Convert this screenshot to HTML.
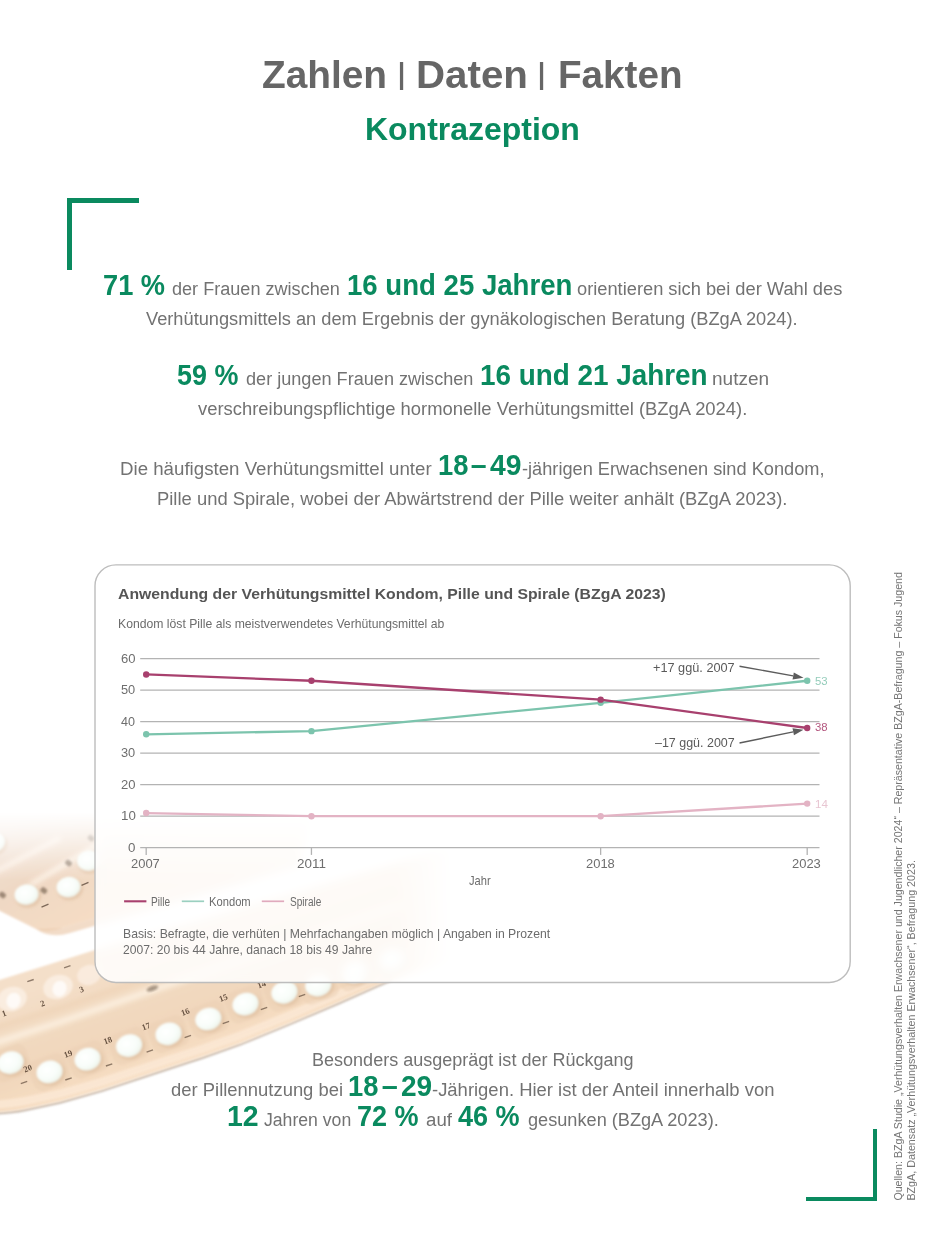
<!DOCTYPE html>
<html lang="de">
<head>
<meta charset="utf-8">
<title>Zahlen | Daten | Fakten – Kontrazeption</title>
<style>
html,body{margin:0;padding:0;background:#fff}
body{width:945px;height:1260px;position:relative;overflow:hidden;font-family:"Liberation Sans",sans-serif;color:#6f6f6f}
h1,h2,h3,p,figure,figcaption,ul,li,div{margin:0;padding:0;font-weight:normal;font-size:inherit;list-style:none}
.r{position:absolute;display:block;white-space:pre;line-height:1;transform-origin:0 0;font-weight:normal}
.b{font-weight:bold}
.title{color:#666666}
.green{color:#0a8a5f}
.body{color:#727272}
.ctitle{color:#555555}
.csub{color:#6c6c6c}
.anno{color:#5a5a5a}
.teal{color:#93ccba}
.crim{color:#b4577f}
.pink{color:#e8c6d2}
.axis{color:#6e6e6e}
.layer{position:absolute;left:0;top:0;width:945px;height:1260px;overflow:hidden}
.card{position:absolute;left:95px;top:564.9px;width:755.2px;height:417.6px;border-radius:21px;background:rgba(255,255,255,.85);-webkit-backdrop-filter:blur(5px);backdrop-filter:blur(5px)}
.corner{position:absolute;background:#0a8a5f}
.src{position:absolute;left:0;top:0;white-space:pre;line-height:1;font-size:12.4px;color:#757575;transform-origin:0 0}
</style>
</head>
<body>
<svg class="layer" width="945" height="1260" viewBox="0 0 945 1260" aria-hidden="true">
<defs>
<linearGradient id="fadeU" gradientUnits="userSpaceOnUse" x1="0" y1="812" x2="0" y2="880">
<stop offset="0" stop-color="#000"/><stop offset=".35" stop-color="#555"/><stop offset="1" stop-color="#fff"/></linearGradient>
<linearGradient id="fadeR" gradientUnits="userSpaceOnUse" x1="395" y1="0" x2="455" y2="0">
<stop offset="0" stop-color="#fff"/><stop offset="1" stop-color="#000"/></linearGradient>
<mask id="mR" maskUnits="userSpaceOnUse" x="-20" y="700" width="965" height="560"><rect x="-20" y="700" width="965" height="560" fill="url(#fadeR)"/></mask>
<mask id="mU" maskUnits="userSpaceOnUse" x="0" y="700" width="945" height="560"><rect x="0" y="700" width="945" height="560" fill="url(#fadeU)"/></mask>
<radialGradient id="pl" cx=".42" cy=".38" r=".75">
<stop offset="0" stop-color="#ffffff"/><stop offset=".55" stop-color="#f8fdf9"/><stop offset=".88" stop-color="#edf3ea"/><stop offset="1" stop-color="#e6dfce"/></radialGradient>
<linearGradient id="lp" gradientUnits="userSpaceOnUse" x1="120" y1="960" x2="160" y2="1075">
<stop offset="0" stop-color="#f4dfc9"/><stop offset=".3" stop-color="#f2dac1"/><stop offset=".62" stop-color="#f1d7bc"/><stop offset=".85" stop-color="#f5dcc1"/><stop offset="1" stop-color="#fae3ca"/></linearGradient>
<linearGradient id="up" gradientUnits="userSpaceOnUse" x1="0" y1="830" x2="60" y2="935">
<stop offset="0" stop-color="#f2e2d6"/><stop offset=".5" stop-color="#efd8c4"/><stop offset="1" stop-color="#f5dcc4"/></linearGradient>
<filter id="fb0" x="-20%" y="-20%" width="140%" height="140%"><feGaussianBlur stdDeviation="0.45"/></filter>
<filter id="fb1" x="-10%" y="-10%" width="120%" height="120%"><feGaussianBlur stdDeviation="0.8"/></filter>
<filter id="fb2" x="-20%" y="-20%" width="140%" height="140%"><feGaussianBlur stdDeviation="2.5"/></filter>
</defs>
<g mask="url(#mU)">
<g filter="url(#fb1)">
<path d="M-10 790L330 760L300 858L62 928Q48 934 36 929L-10 906Z" fill="url(#up)"/>
<path d="M62 928L300 858L300 866L70 933Q50 939 36 929Z" fill="#eccdb0" opacity=".7"/>
</g>
<g filter="url(#fb2)" stroke="#fdf3e8" stroke-width="5" fill="none" opacity=".9">
<path d="M-5 872L60 838"/><path d="M30 885L105 840"/>
</g>
<g filter="url(#fb1)">
<ellipse cx="27.7" cy="896.7" rx="13.0" ry="11.0" transform="rotate(-10 26.5 894.5)" fill="#d9b796" opacity="0.55" filter="url(#fb1)"/><ellipse cx="26.5" cy="894.5" rx="12.0" ry="10.2" transform="rotate(-10 26.5 894.5)" fill="url(#pl)" opacity="1"/>
<ellipse cx="69.7" cy="889.2" rx="13.0" ry="11.0" transform="rotate(-10 68.5 887.0)" fill="#d9b796" opacity="0.55" filter="url(#fb1)"/><ellipse cx="68.5" cy="887.0" rx="12.0" ry="10.2" transform="rotate(-10 68.5 887.0)" fill="url(#pl)" opacity="1"/>
<ellipse cx="90.2" cy="862.7" rx="13.0" ry="11.0" transform="rotate(-10 89.0 860.5)" fill="#d9b796" opacity="0.55" filter="url(#fb1)"/><ellipse cx="89.0" cy="860.5" rx="12.0" ry="10.2" transform="rotate(-10 89.0 860.5)" fill="url(#pl)" opacity="1"/>
<ellipse cx="-5.8" cy="844.2" rx="13.0" ry="11.0" transform="rotate(-10 -7.0 842.0)" fill="#d9b796" opacity="0.55" filter="url(#fb1)"/><ellipse cx="-7.0" cy="842.0" rx="12.0" ry="10.2" transform="rotate(-10 -7.0 842.0)" fill="url(#pl)" opacity="1"/>
</g>
<g fill="#5a4636" opacity=".55" filter="url(#fb1)">
<rect x="65.3" y="860.4" width="6.4" height="5.2" rx="1.5" transform="rotate(40 68.5 863)"/>
<rect x="40.599999999999994" y="887.9" width="6.4" height="5.2" rx="1.5" transform="rotate(40 43.8 890.5)"/>
<rect x="-0.7000000000000002" y="892.4" width="6.4" height="5.2" rx="1.5" transform="rotate(40 2.5 895)"/>
<rect x="87.8" y="835.4" width="6.4" height="5.2" rx="1.5" transform="rotate(40 91 838)"/>
</g>
<g stroke="#4d3a2d" stroke-width="1.4" fill="none" opacity=".7" filter="url(#fb0)">
<path d="M81.5 885.3L88.5 882.3"/>
<path d="M41.5 907.1L48.5 904.1"/>
</g>
</g>
<g mask="url(#mR)">
<path d="M-10 1113.5Q10 1113 25 1110L60 1102.5L101.5 1090.8L169.3 1068.5L203 1057.5L240 1044.5L290 1024L338.6 1003.3L376.7 986.4L392 980" stroke="#bfae9f" stroke-width="2.4" fill="none" filter="url(#fb1)" opacity=".85"/>
<g filter="url(#fb1)">
<path d="M-10 983L95 950L470 842L480 953L392 979L376.7 985.4L338.6 1002.3L290 1023L240 1043.5L203 1056.5L169.3 1067.5L101.5 1089.8L60 1101.5L25 1109Q10 1112 -10 1112.5Z" fill="url(#lp)"/>
</g>
<path d="M-10 1105Q10 1104 25 1101L60 1093.5L101.5 1081.8L169.3 1059.5L203 1048.5L240 1035.5L290 1015L338.6 994.3L376.7 977.4L392 971" stroke="#fce9d6" stroke-width="8" fill="none" opacity=".8" filter="url(#fb1)"/>
<g filter="url(#fb2)" fill="none">
<path d="M-5 1043L60 1022L400 905" stroke="#fcefe0" stroke-width="7" opacity=".9"/>
<path d="M-5 1028L60 1008L400 892" stroke="#efd3b6" stroke-width="5" opacity=".8"/>
</g>
<g filter="url(#fb1)">
<ellipse cx="12" cy="999" rx="15" ry="12" transform="rotate(-18 12 999)" fill="#fbeee2" opacity=".9"/>
<ellipse cx="14" cy="1000" rx="7" ry="8" transform="rotate(20 12 999)" fill="#fff" opacity=".75"/>
<ellipse cx="58" cy="987" rx="15" ry="12" transform="rotate(-18 58 987)" fill="#fbeee2" opacity=".9"/>
<ellipse cx="60" cy="988" rx="7" ry="8" transform="rotate(20 58 987)" fill="#fff" opacity=".75"/>
<ellipse cx="89" cy="975" rx="12" ry="10" transform="rotate(-18 89 975)" fill="#fbeee2" opacity=".8"/>
</g>
<g filter="url(#fb1)">
<rect x="-8.4" y="1046.9" width="38" height="32" rx="9" transform="rotate(-20 10.6 1062.9)" fill="#ecd0b3" opacity=".5"/>
<rect x="30.5" y="1056.2" width="38" height="32" rx="9" transform="rotate(-20 49.5 1072.2)" fill="#ecd0b3" opacity=".5"/>
<rect x="68.6" y="1043.5" width="38" height="32" rx="9" transform="rotate(-20 87.6 1059.5)" fill="#ecd0b3" opacity=".5"/>
<rect x="110.1" y="1029.9" width="38" height="32" rx="9" transform="rotate(-20 129.1 1045.9)" fill="#ecd0b3" opacity=".5"/>
<rect x="149.5" y="1018.1" width="38" height="32" rx="9" transform="rotate(-20 168.5 1034.1)" fill="#ecd0b3" opacity=".5"/>
<rect x="189.3" y="1003.3" width="38" height="32" rx="9" transform="rotate(-20 208.3 1019.3)" fill="#ecd0b3" opacity=".5"/>
<rect x="226.5" y="988.4" width="38" height="32" rx="9" transform="rotate(-20 245.5 1004.4)" fill="#ecd0b3" opacity=".5"/>
<rect x="265.4" y="976.6" width="38" height="32" rx="9" transform="rotate(-20 284.4 992.6)" fill="#ecd0b3" opacity=".5"/>
<rect x="299.3" y="969.4" width="38" height="32" rx="9" transform="rotate(-20 318.3 985.4)" fill="#ecd0b3" opacity=".5"/>
<rect x="336.0" y="956.0" width="38" height="32" rx="9" transform="rotate(-20 355.0 972.0)" fill="#ecd0b3" opacity=".5"/>
<rect x="373.0" y="944.0" width="38" height="32" rx="9" transform="rotate(-20 392.0 960.0)" fill="#ecd0b3" opacity=".5"/>
<ellipse cx="11.8" cy="1064.8" rx="14.2" ry="11.9" transform="rotate(-17 10.6 1062.6)" fill="#d9b796" opacity="0.55" filter="url(#fb1)"/><ellipse cx="10.6" cy="1062.6" rx="13.2" ry="11.1" transform="rotate(-17 10.6 1062.6)" fill="url(#pl)" opacity="1"/>
<ellipse cx="50.7" cy="1074.1" rx="14.2" ry="11.9" transform="rotate(-17 49.5 1071.9)" fill="#d9b796" opacity="0.55" filter="url(#fb1)"/><ellipse cx="49.5" cy="1071.9" rx="13.2" ry="11.1" transform="rotate(-17 49.5 1071.9)" fill="url(#pl)" opacity="1"/>
<ellipse cx="88.8" cy="1061.4" rx="14.2" ry="11.9" transform="rotate(-17 87.6 1059.2)" fill="#d9b796" opacity="0.55" filter="url(#fb1)"/><ellipse cx="87.6" cy="1059.2" rx="13.2" ry="11.1" transform="rotate(-17 87.6 1059.2)" fill="url(#pl)" opacity="1"/>
<ellipse cx="130.3" cy="1047.8" rx="14.2" ry="11.9" transform="rotate(-17 129.1 1045.6)" fill="#d9b796" opacity="0.55" filter="url(#fb1)"/><ellipse cx="129.1" cy="1045.6" rx="13.2" ry="11.1" transform="rotate(-17 129.1 1045.6)" fill="url(#pl)" opacity="1"/>
<ellipse cx="169.7" cy="1036.0" rx="14.2" ry="11.9" transform="rotate(-17 168.5 1033.8)" fill="#d9b796" opacity="0.55" filter="url(#fb1)"/><ellipse cx="168.5" cy="1033.8" rx="13.2" ry="11.1" transform="rotate(-17 168.5 1033.8)" fill="url(#pl)" opacity="1"/>
<ellipse cx="209.5" cy="1021.2" rx="14.2" ry="11.9" transform="rotate(-17 208.3 1019.0)" fill="#d9b796" opacity="0.55" filter="url(#fb1)"/><ellipse cx="208.3" cy="1019.0" rx="13.2" ry="11.1" transform="rotate(-17 208.3 1019.0)" fill="url(#pl)" opacity="1"/>
<ellipse cx="246.7" cy="1006.3" rx="14.2" ry="11.9" transform="rotate(-17 245.5 1004.1)" fill="#d9b796" opacity="0.55" filter="url(#fb1)"/><ellipse cx="245.5" cy="1004.1" rx="13.2" ry="11.1" transform="rotate(-17 245.5 1004.1)" fill="url(#pl)" opacity="1"/>
<ellipse cx="285.6" cy="994.5" rx="14.2" ry="11.9" transform="rotate(-17 284.4 992.3)" fill="#d9b796" opacity="0.55" filter="url(#fb1)"/><ellipse cx="284.4" cy="992.3" rx="13.2" ry="11.1" transform="rotate(-17 284.4 992.3)" fill="url(#pl)" opacity="1"/>
<ellipse cx="319.5" cy="987.3" rx="14.2" ry="11.9" transform="rotate(-17 318.3 985.1)" fill="#d9b796" opacity="0.55" filter="url(#fb1)"/><ellipse cx="318.3" cy="985.1" rx="13.2" ry="11.1" transform="rotate(-17 318.3 985.1)" fill="url(#pl)" opacity="1"/>
<ellipse cx="356.2" cy="973.9" rx="14.2" ry="11.9" transform="rotate(-17 355.0 971.7)" fill="#d9b796" opacity="0.55" filter="url(#fb1)"/><ellipse cx="355.0" cy="971.7" rx="13.2" ry="11.1" transform="rotate(-17 355.0 971.7)" fill="url(#pl)" opacity="1"/>
<ellipse cx="393.2" cy="961.9" rx="14.2" ry="11.9" transform="rotate(-17 392.0 959.7)" fill="#d9b796" opacity="0.55" filter="url(#fb1)"/><ellipse cx="392.0" cy="959.7" rx="13.2" ry="11.1" transform="rotate(-17 392.0 959.7)" fill="url(#pl)" opacity="1"/>
</g>
<g font-family="'Liberation Serif',serif" font-weight="bold" font-size="8.5" fill="#4f3b2c" opacity=".85" text-anchor="middle" filter="url(#fb0)">
<text x="5" y="1016" transform="rotate(-20 5 1016)">1</text>
<text x="43.6" y="1006" transform="rotate(-20 43.6 1006)">2</text>
<text x="82.5" y="992" transform="rotate(-20 82.5 992)">3</text>
<text x="28.8" y="1071" transform="rotate(-20 28.8 1071)">20</text>
<text x="69" y="1056.5" transform="rotate(-20 69 1056.5)">19</text>
<text x="108.8" y="1043" transform="rotate(-20 108.8 1043)">18</text>
<text x="146.9" y="1029" transform="rotate(-20 146.9 1029)">17</text>
<text x="186.2" y="1014.5" transform="rotate(-20 186.2 1014.5)">16</text>
<text x="224.3" y="1000.5" transform="rotate(-20 224.3 1000.5)">15</text>
<text x="262.4" y="987" transform="rotate(-20 262.4 987)">14</text>
</g>
<ellipse cx="152.4" cy="988.5" rx="6" ry="2.4" transform="rotate(-20 152.4 988.5)" fill="#5a4636" opacity=".5" filter="url(#fb1)"/>
<g stroke="#4d3a2d" stroke-width="1.4" fill="none" opacity=".6" filter="url(#fb0)">
<path d="M65.3 1080.0L71.7 1077.8000000000002"/>
<path d="M105.89999999999999 1066.0L112.3 1063.8000000000002"/>
<path d="M146.60000000000002 1052.1L153.0 1049.9"/>
<path d="M184.60000000000002 1037.6L191.0 1035.4"/>
<path d="M222.70000000000002 1023.6L229.1 1021.4"/>
<path d="M260.8 1009.6L267.2 1007.4"/>
<path d="M298.8 996.6L305.2 994.4"/>
<path d="M27.3 981.7L33.7 979.5"/>
<path d="M64.1 967.8000000000001L70.5 965.6"/>
<path d="M20.8 1083.6L27.2 1081.4"/>
</g>
</g>
</svg>
<div class="card"></div>
<svg class="layer" width="945" height="1260" viewBox="0 0 945 1260" aria-hidden="true">
<rect x="95" y="564.9" width="755.2" height="417.6" rx="21" ry="21" fill="none" stroke="#bdbdbd" stroke-width="1.4"/>
<g stroke="#b3b3b3" stroke-width="1.3" fill="none">
<path d="M140.2 847.70H819.5"/>
<path d="M140.2 816.20H819.5"/>
<path d="M140.2 784.70H819.5"/>
<path d="M140.2 753.20H819.5"/>
<path d="M140.2 721.70H819.5"/>
<path d="M140.2 690.20H819.5"/>
<path d="M140.2 658.70H819.5"/>
<path d="M146.20 847.70v7.2"/>
<path d="M311.45 847.70v7.2"/>
<path d="M600.64 847.70v7.2"/>
<path d="M807.20 847.70v7.2"/>
</g>
<polyline points="146.20,813.05 311.45,816.20 600.64,816.20 807.20,803.60" fill="none" stroke="#e3b3c4" stroke-width="2.3" stroke-linejoin="round"/>
<circle cx="146.20" cy="813.05" r="3.2" fill="#e3b3c4"/>
<circle cx="311.45" cy="816.20" r="3.2" fill="#e3b3c4"/>
<circle cx="600.64" cy="816.20" r="3.2" fill="#e3b3c4"/>
<circle cx="807.20" cy="803.60" r="3.2" fill="#e3b3c4"/>
<polyline points="146.20,734.30 311.45,731.15 600.64,702.80 807.20,680.75" fill="none" stroke="#7cc4ad" stroke-width="2.3" stroke-linejoin="round"/>
<circle cx="146.20" cy="734.30" r="3.2" fill="#7cc4ad"/>
<circle cx="311.45" cy="731.15" r="3.2" fill="#7cc4ad"/>
<circle cx="600.64" cy="702.80" r="3.2" fill="#7cc4ad"/>
<circle cx="807.20" cy="680.75" r="3.2" fill="#7cc4ad"/>
<polyline points="146.20,674.45 311.45,680.75 600.64,699.65 807.20,728.00" fill="none" stroke="#a8406e" stroke-width="2.3" stroke-linejoin="round"/>
<circle cx="146.20" cy="674.45" r="3.2" fill="#a8406e"/>
<circle cx="311.45" cy="680.75" r="3.2" fill="#a8406e"/>
<circle cx="600.64" cy="699.65" r="3.2" fill="#a8406e"/>
<circle cx="807.20" cy="728.00" r="3.2" fill="#a8406e"/>
<path d="M739.50 666.20L793.17 675.93" stroke="#5c5c5c" stroke-width="1.4" fill="none"/><path d="M803.50 677.80L792.53 679.47L793.81 672.39Z" fill="#5c5c5c"/>
<path d="M739.50 743.00L793.22 731.84" stroke="#5c5c5c" stroke-width="1.4" fill="none"/><path d="M803.50 729.70L793.95 735.36L792.49 728.31Z" fill="#5c5c5c"/>
<path d="M124.1 901.3h22.3" stroke="#a8406e" stroke-width="2.1" fill="none"/>
<path d="M181.8 901.3h22.3" stroke="#9bd0c0" stroke-width="1.7" fill="none"/>
<path d="M261.8 901.3h22.3" stroke="#e0aabd" stroke-width="1.7" fill="none"/>
</svg>
<div class="corner" style="left:67.4px;top:198px;width:72px;height:4.9px"></div>
<div class="corner" style="left:67.4px;top:198px;width:4.8px;height:72.4px"></div>
<div class="corner" style="left:805.9px;top:1196.5px;width:71.5px;height:4.8px"></div>
<div class="corner" style="left:872.7px;top:1129.1px;width:4.7px;height:72.2px"></div>
<header>
<h1><span id="t1" class="r title b" style="left:261.97px;top:54.61px;font-size:39.4px;transform:scaleX(0.9850);">Zahlen</span> <span id="t2" class="r title b" style="left:398.08px;top:59.24px;font-size:29.6px;transform:scaleX(0.8533);">|</span> <span id="t3" class="r title b" style="left:416.09px;top:54.61px;font-size:39.4px;transform:scaleX(1.0225);">Daten</span> <span id="t4" class="r title b" style="left:538.28px;top:59.24px;font-size:29.6px;transform:scaleX(0.8533);">|</span> <span id="t5" class="r title b" style="left:557.60px;top:54.61px;font-size:39.4px;transform:scaleX(0.9807);">Fakten</span></h1>
<h2><span id="k" class="r green b" style="left:364.71px;top:114.19px;font-size:30.6px;transform:scaleX(1.0449);">Kontrazeption</span></h2>
</header>
<main>
<p><span id="p1a" class="r green b" style="left:102.84px;top:269.81px;font-size:29.4px;transform:scaleX(0.9262);">71 %</span>
<span id="p1b" class="r body" style="left:172.29px;top:279.48px;font-size:19.2px;transform:scaleX(0.9426);">der Frauen zwischen</span>
<span id="p1c" class="r green b" style="left:347.36px;top:269.81px;font-size:29.4px;transform:scaleX(0.9387);">16 und 25 Jahren</span>
<span id="p1d" class="r body" style="left:577.39px;top:279.48px;font-size:19.2px;transform:scaleX(0.9518);">orientieren sich bei der Wahl des</span>
<span id="p1e" class="r body" style="left:146.16px;top:308.68px;font-size:19.2px;transform:scaleX(0.9501);">Verhütungsmittels an dem Ergebnis der gynäkologischen Beratung (BZgA 2024).</span></p>
<p><span id="p2a" class="r green b" style="left:176.89px;top:360.01px;font-size:29.4px;transform:scaleX(0.9149);">59 %</span>
<span id="p2b" class="r body" style="left:246.19px;top:368.68px;font-size:19.2px;transform:scaleX(0.9435);">der jungen Frauen zwischen</span>
<span id="p2c" class="r green b" style="left:479.64px;top:360.01px;font-size:29.4px;transform:scaleX(0.9480);">16 und 21 Jahren</span>
<span id="p2d" class="r body" style="left:711.76px;top:368.68px;font-size:19.2px;transform:scaleX(0.9909);">nutzen</span>
<span id="p2e" class="r body" style="left:197.76px;top:398.68px;font-size:19.2px;transform:scaleX(0.9591);">verschreibungspflichtige hormonelle Verhütungsmittel (BZgA 2024).</span></p>
<p><span id="p3a" class="r body" style="left:119.94px;top:458.68px;font-size:19.2px;transform:scaleX(0.9738);">Die häufigsten Verhütungsmittel unter</span>
<span id="p3b" class="r green b" style="left:438.27px;top:450.01px;font-size:29.4px;transform:scaleX(0.9300);">18</span><span id="p3bd" class="r green b" style="left:465.38px;top:450.01px;font-size:29.4px;transform:scaleX(0.9655);"> – </span><span id="p3be" class="r green b" style="left:490.02px;top:450.01px;font-size:29.4px;transform:scaleX(0.9613);">49</span><span id="p3c" class="r body" style="left:521.99px;top:458.68px;font-size:19.2px;transform:scaleX(0.9485);">-jährigen Erwachsenen sind Kondom,</span>
<span id="p3d" class="r body" style="left:156.86px;top:488.98px;font-size:19.2px;transform:scaleX(0.9595);">Pille und Spirale, wobei der Abwärtstrend der Pille weiter anhält (BZgA 2023).</span></p>
<figure>
<h3><span id="c1" class="r ctitle b" style="left:117.99px;top:585.51px;font-size:15.4px;transform:scaleX(1.0244);">Anwendung der Verhütungsmittel Kondom, Pille und Spirale (BZgA 2023)</span></h3>
<p><span id="c2" class="r csub" style="left:117.55px;top:617.74px;font-size:12.9px;transform:scaleX(0.9466);">Kondom löst Pille als meistverwendetes Verhütungsmittel ab</span></p>
<div class="yax"><span id="y60" class="r axis" style="left:120.85px;top:651.85px;font-size:13.0px;transform:scaleX(1.0038);">60</span>
<span id="y50" class="r axis" style="left:121.11px;top:683.35px;font-size:13.0px;transform:scaleX(0.9852);">50</span>
<span id="y40" class="r axis" style="left:121.36px;top:714.85px;font-size:13.0px;transform:scaleX(0.9673);">40</span>
<span id="y30" class="r axis" style="left:121.11px;top:746.35px;font-size:13.0px;transform:scaleX(0.9852);">30</span>
<span id="y20" class="r axis" style="left:120.85px;top:777.85px;font-size:13.0px;transform:scaleX(1.0038);">20</span>
<span id="y10" class="r axis" style="left:120.58px;top:809.35px;font-size:13.0px;transform:scaleX(1.0231);">10</span>
<span id="y0" class="r axis" style="left:127.99px;top:840.85px;font-size:13.0px;transform:scaleX(1.0240);">0</span></div>
<div class="xax"><span id="ax" class="r csub" style="left:469.18px;top:875.29px;font-size:12.6px;transform:scaleX(0.8833);">Jahr</span>
<span id="x2007" class="r axis" style="left:131.45px;top:857.25px;font-size:13.0px;transform:scaleX(0.9964);">2007</span>
<span id="x2011" class="r axis" style="left:296.92px;top:857.25px;font-size:13.0px;transform:scaleX(1.0340);">2011</span>
<span id="x2018" class="r axis" style="left:585.75px;top:857.25px;font-size:13.0px;transform:scaleX(0.9964);">2018</span>
<span id="x2023" class="r axis" style="left:791.85px;top:857.25px;font-size:13.0px;transform:scaleX(0.9964);">2023</span></div>
<div class="ann"><span id="an1" class="r anno" style="left:653.06px;top:662.13px;font-size:12.9px;transform:scaleX(0.9865);">+17 ggü. 2007</span>
<span id="an2" class="r anno" style="left:655.20px;top:737.03px;font-size:12.9px;transform:scaleX(0.9664);">–17 ggü. 2007</span>
<span id="v53" class="r teal" style="left:815.21px;top:675.83px;font-size:11.5px;transform:scaleX(0.9872);">53</span>
<span id="v38" class="r crim" style="left:815.21px;top:722.33px;font-size:11.5px;transform:scaleX(0.9872);">38</span>
<span id="v14" class="r pink" style="left:814.69px;top:798.73px;font-size:11.5px;transform:scaleX(1.0087);">14</span></div>
<div class="leg"><span id="lg1" class="r csub" style="left:151.16px;top:895.60px;font-size:12.0px;transform:scaleX(0.8376);">Pille</span>
<span id="lg2" class="r csub" style="left:208.77px;top:895.60px;font-size:12.0px;transform:scaleX(0.9326);">Kondom</span>
<span id="lg3" class="r csub" style="left:289.58px;top:895.60px;font-size:12.0px;transform:scaleX(0.8386);">Spirale</span></div>
<figcaption><span id="cb1" class="r csub" style="left:123.15px;top:928.43px;font-size:12.9px;transform:scaleX(0.9471);">Basis: Befragte, die verhüten | Mehrfachangaben möglich | Angaben in Prozent</span>
<span id="cb2" class="r csub" style="left:123.40px;top:944.13px;font-size:12.9px;transform:scaleX(0.9399);">2007: 20 bis 44 Jahre, danach 18 bis 49 Jahre</span></figcaption>
</figure>
<p><span id="b1" class="r body" style="left:311.69px;top:1049.68px;font-size:19.2px;transform:scaleX(0.9393);">Besonders ausgeprägt ist der Rückgang</span>
<span id="b2a" class="r body" style="left:170.68px;top:1079.68px;font-size:19.2px;transform:scaleX(0.9602);">der Pillennutzung bei</span>
<span id="b2b" class="r green b" style="left:348.27px;top:1071.01px;font-size:29.4px;transform:scaleX(0.9300);">18</span><span id="b2bd" class="r green b" style="left:376.19px;top:1071.01px;font-size:29.4px;transform:scaleX(0.9793);"> – </span><span id="b2be" class="r green b" style="left:400.75px;top:1071.01px;font-size:29.4px;transform:scaleX(0.9541);">29</span><span id="b2c" class="r body" style="left:432.28px;top:1079.68px;font-size:19.2px;transform:scaleX(0.9612);">-Jährigen. Hier ist der Anteil innerhalb von</span>
<span id="b3a" class="r green b" style="left:227.31px;top:1101.01px;font-size:29.4px;transform:scaleX(0.9681);">12</span>
<span id="b3b" class="r body" style="left:264.37px;top:1109.68px;font-size:19.2px;transform:scaleX(0.9187);">Jahren von</span>
<span id="b3c" class="r green b" style="left:357.45px;top:1101.01px;font-size:29.4px;transform:scaleX(0.9185);">72 %</span>
<span id="b3d" class="r body" style="left:425.97px;top:1109.68px;font-size:19.2px;transform:scaleX(0.9731);">auf</span>
<span id="b3e" class="r green b" style="left:457.94px;top:1101.01px;font-size:29.4px;transform:scaleX(0.9202);">46 %</span>
<span id="b3f" class="r body" style="left:527.59px;top:1109.68px;font-size:19.2px;transform:scaleX(0.9462);">gesunken (BZgA 2023).</span></p>
</main>
<footer>
<p id="s1" class="src" style="font-size:11.5px;transform:translate(893.2px,1200.6px) rotate(-90deg) scaleX(0.9240)">Quellen: BZgA Studie „Verhütungsverhalten Erwachsener und Jugendlicher 2024“ – Repräsentative BZgA-Befragung – Fokus Jugend</p>
<p id="s2" class="src" style="font-size:11.5px;transform:translate(906.0px,1200.6px) rotate(-90deg) scaleX(0.9330)">BZgA, Datensatz „Verhütungsverhalten Erwachsener“, Befragung 2023.</p>

</footer>
</body>
</html>
